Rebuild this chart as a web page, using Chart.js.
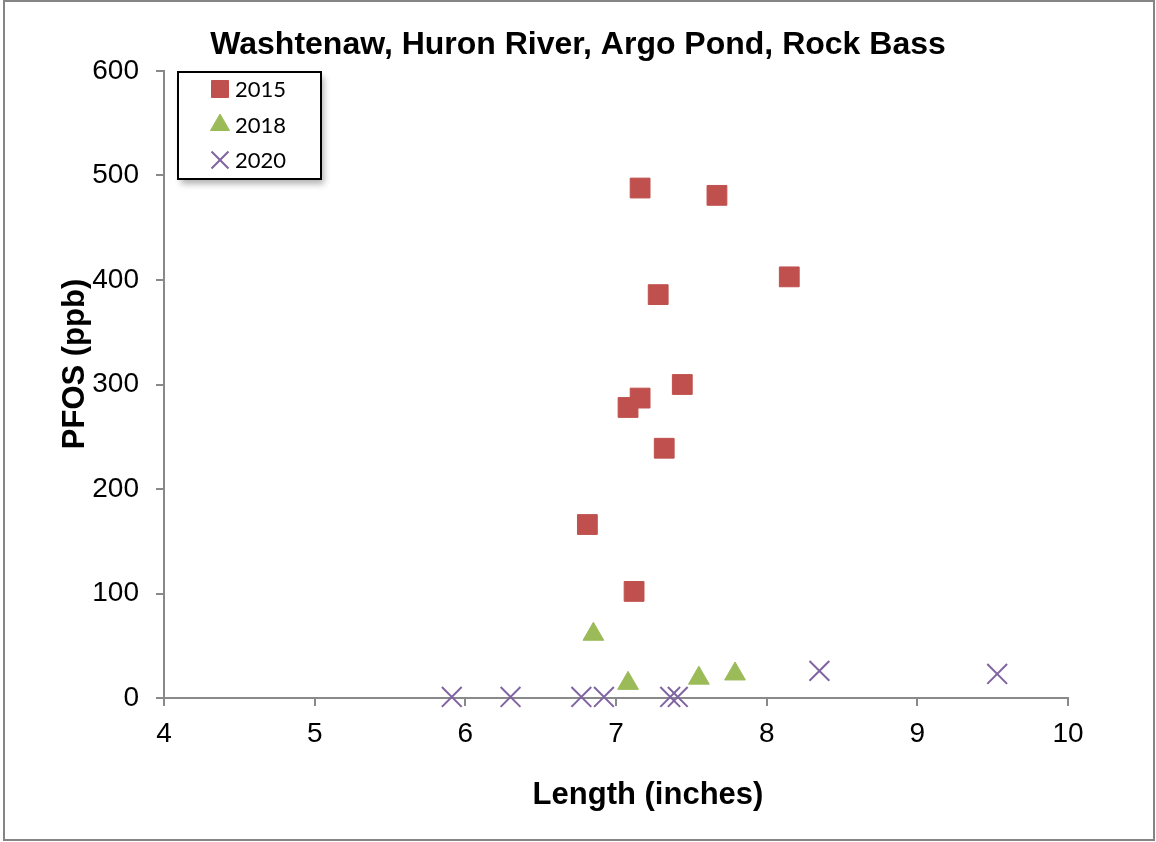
<!DOCTYPE html>
<html>
<head>
<meta charset="utf-8">
<script src="https://cdn.jsdelivr.net/npm/chart.js@4.4.0/dist/chart.umd.min.js"></script>
<style>
  html, body { margin: 0; padding: 0; background: #fff; }
  #wrap { width: 1156px; height: 842px; }
</style>
</head>
<body>
<div id="wrap"><canvas id="chart" width="1156" height="842"></canvas></div>
<script>
// Datos
const seriesNames = ['2015', '2018', '2020'];
const length2015 = [7.16, 7.67, 8.15, 7.28, 7.44, 7.16, 7.08, 7.32, 6.81, 7.12];
const pfos2015   = [488, 481, 403, 386, 300, 287, 278, 239, 166, 102];
const length2018 = [6.85, 7.08, 7.55, 7.79];
const pfos2018   = [61, 14, 19, 23];
const length2020 = [5.91, 6.30, 6.77, 6.92, 7.36, 7.41, 8.35, 9.53];
const pfos2020   = [1, 1, 1, 1, 1, 1, 26, 23];
const xTicks = [4, 5, 6, 7, 8, 9, 10];
const yTicks = [0, 100, 200, 300, 400, 500, 600];

const chartTitle = 'Washtenaw, Huron River, Argo Pond, Rock Bass';
const xTitle = 'Length (inches)';
const yTitle = 'PFOS (ppb)';

const AXIS_GRAY = '#898989';

function toPoints(xs, ys) {
    return xs.map((x, i) => ({ x: x, y: ys[i] }));
}

// Marco, títulos y leyenda dibujados a mano
const decorPlugin = {
    id: 'decor',
    beforeDraw(chart) {
        const ctx = chart.ctx;
        ctx.save();
        ctx.fillStyle = '#fff';
        ctx.fillRect(0, 0, chart.width, chart.height);
        ctx.strokeStyle = '#858585';
        ctx.lineWidth = 2;
        ctx.strokeRect(4, 1, 1150, 839);
        ctx.restore();
    },
    afterDraw(chart) {
        const ctx = chart.ctx;
        ctx.save();
        ctx.fillStyle = '#000';
        ctx.textAlign = 'center';
        ctx.textBaseline = 'middle';

        ctx.font = 'bold 32px "Liberation Sans", Arial, sans-serif';
        ctx.fillText(chartTitle, 578, 45);

        ctx.font = 'bold 31px "Liberation Sans", Arial, sans-serif';
        ctx.fillText(xTitle, 648, 795);

        ctx.translate(75, 364);
        ctx.rotate(-Math.PI / 2);
        ctx.fillText(yTitle, 0, 0);
        ctx.restore();

        // Leyenda
        const box = { x: 178, y: 72, w: 143, h: 107 };
        ctx.save();
        ctx.fillStyle = 'rgba(0,0,0,0.3)';
        ctx.filter = 'blur(3px)';
        ctx.fillRect(box.x + 3, box.y + 5, box.w, box.h);
        ctx.filter = 'none';
        ctx.fillStyle = '#fff';
        ctx.fillRect(box.x, box.y, box.w, box.h);
        ctx.strokeStyle = '#000';
        ctx.lineWidth = 2;
        ctx.strokeRect(box.x, box.y, box.w, box.h);

        const rowY = [89, 125, 160];
        chart.data.datasets.forEach((ds, i) => {
            ctx.fillStyle = ds.backgroundColor;
            ctx.strokeStyle = ds.borderColor;
            ctx.lineWidth = ds.borderWidth;
            Chart.helpers.drawPoint(ctx, {
                pointStyle: ds.pointStyle,
                radius: ds.legendRadius,
                rotation: 0,
                borderWidth: ds.borderWidth
            }, 220, rowY[i]);
            ctx.fillStyle = '#000';
            ctx.font = '22px Lato, "Open Sans", sans-serif';
            ctx.textAlign = 'left';
            ctx.textBaseline = 'middle';
            ctx.fillText(ds.label, 235, rowY[i] + 1);
        });
        ctx.restore();
    }
};

const ctx = document.getElementById('chart').getContext('2d');

new Chart(ctx, {
    type: 'scatter',
    data: {
        datasets: [
            {
                label: seriesNames[0],
                data: toPoints(length2015, pfos2015),
                pointStyle: 'rect',
                pointRadius: 14,
                legendRadius: 12,
                backgroundColor: '#C0504D',
                borderColor: '#C0504D',
                borderWidth: 1,
                clip: false
            },
            {
                label: seriesNames[1],
                data: toPoints(length2018, pfos2018),
                pointStyle: 'triangle',
                pointRadius: 12,
                legendRadius: 11,
                backgroundColor: '#9BBB59',
                borderColor: '#9BBB59',
                borderWidth: 1,
                clip: false
            },
            {
                label: seriesNames[2],
                data: toPoints(length2020, pfos2020),
                pointStyle: 'crossRot',
                pointRadius: 14,
                legendRadius: 12,
                backgroundColor: '#8064A2',
                borderColor: '#8064A2',
                borderWidth: 2,
                clip: false
            }
        ]
    },
    options: {
        responsive: false,
        animation: false,
        devicePixelRatio: 1,
        layout: {
            autoPadding: false,
            padding: { left: 0, right: 88, top: 71, bottom: 0 }
        },
        plugins: {
            legend: { display: false },
            title: { display: false },
            tooltip: { enabled: false }
        },
        scales: {
            x: {
                type: 'linear',
                min: xTicks[0],
                max: xTicks[xTicks.length - 1],
                afterBuildTicks: (scale) => { scale.ticks = xTicks.map(v => ({ value: v })); },
                afterFit: (scale) => { scale.height = 144; },
                grid: {
                    drawOnChartArea: false,
                    drawTicks: true,
                    tickLength: 8,
                    color: AXIS_GRAY,
                    lineWidth: 2
                },
                border: { color: AXIS_GRAY, width: 2 },
                ticks: {
                    color: '#000',
                    padding: 11,
                    font: { family: '"Liberation Sans", Arial, sans-serif', size: 28 }
                }
            },
            y: {
                type: 'linear',
                min: yTicks[0],
                max: yTicks[yTicks.length - 1],
                afterBuildTicks: (scale) => { scale.ticks = yTicks.map(v => ({ value: v })); },
                afterFit: (scale) => { scale.width = 164; },
                grid: {
                    drawOnChartArea: false,
                    drawTicks: true,
                    tickLength: 8,
                    color: AXIS_GRAY,
                    lineWidth: 2
                },
                border: { color: AXIS_GRAY, width: 2 },
                ticks: {
                    color: '#000',
                    padding: 17,
                    font: { family: '"Liberation Sans", Arial, sans-serif', size: 28 }
                }
            }
        }
    },
    plugins: [decorPlugin]
});
</script>
</body>
</html>
